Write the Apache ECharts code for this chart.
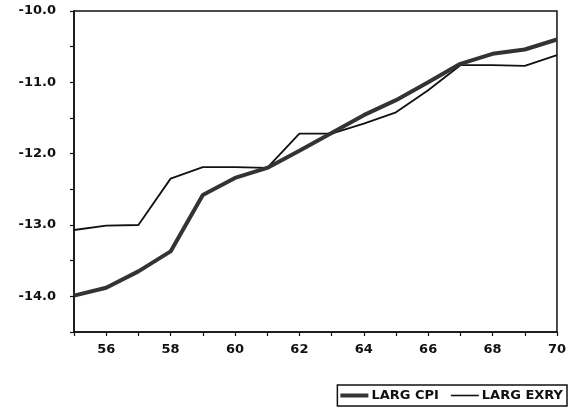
<!DOCTYPE html>
<html>
<head>
<meta charset="utf-8">
<script src="https://cdn.jsdelivr.net/npm/echarts@6/dist/echarts.min.js"></script>
<style>html,body{margin:0;padding:0;background:#fff}#c{width:569px;height:417px}</style>
</head>
<body>
<div id="c"></div>
<script>
var years = [55,56,57,58,59,60,61,62,63,64,65,66,67,68,69,70];
var largCPI = [-13.99,-13.88,-13.65,-13.37,-12.58,-12.34,-12.2,-11.96,-11.71,-11.46,-11.25,-11.0,-10.74,-10.6,-10.54,-10.4];
var largEXRY = [-13.07,-13.01,-13.0,-12.35,-12.19,-12.19,-12.2,-11.72,-11.72,-11.58,-11.42,-11.11,-10.76,-10.76,-10.77,-10.62];
var seriesNames = ['LARG CPI','LARG EXRY'];

function pairs(xs, ys){ return xs.map(function(x,i){ return [x, ys[i]]; }); }
var chart = echarts.init(document.getElementById('c'));
var fontF = 'DejaVu Sans';
chart.setOption({
  animation: false,
  backgroundColor: '#fff',
  grid: {left: 74, right: 11, top: 11, bottom: 85, show: true, borderColor: '#111', borderWidth: 1.5, backgroundColor: 'transparent'},
  xAxis: {
    type: 'value', min: 55, max: 70, interval: 1,
    axisLine: {show: true, lineStyle: {color: '#111', width: 1.5}},
    axisTick: {show: true, length: 4, lineStyle: {color: '#111', width: 1.2}},
    splitLine: {show: false},
    axisLabel: {margin: 11, color: '#111', fontFamily: fontF, fontWeight: 'bold', fontSize: 13,
      formatter: function(v){ return (v % 2 === 0) ? String(v) : ''; }}
  },
  yAxis: {
    type: 'value', min: -14.5, max: -10, interval: 0.5,
    axisLine: {show: true, lineStyle: {color: '#111', width: 1.5}},
    axisTick: {show: true, length: 4, lineStyle: {color: '#111', width: 1.2}},
    splitLine: {show: false},
    axisLabel: {margin: 18, color: '#111', fontFamily: fontF, fontWeight: 'bold', fontSize: 13,
      formatter: function(v){ return (Math.abs(v - Math.round(v)) < 1e-9) ? v.toFixed(1) : ''; }}
  },
  legend: {
    right: 2, bottom: 11, orient: 'horizontal',
    borderColor: '#111', borderWidth: 1.5, padding: [4, 4, 4, 3], itemGap: 12,
    itemWidth: 28, itemHeight: 8, symbolKeepAspect: true,
    textStyle: {color: '#111', fontFamily: fontF, fontWeight: 'bold', fontSize: 13, padding: [0, 0, 0, -2]},
    data: [
      {name: seriesNames[0], icon: 'path://M0,0 L28,0 L28,4 L0,4 Z', itemStyle: {color: '#333'}},
      {name: seriesNames[1], icon: 'path://M0,0 L28,0 L28,1.6 L0,1.6 Z', itemStyle: {color: '#111'}}
    ]
  },
  series: [
    {name: seriesNames[0], type: 'line', symbol: 'none', data: pairs(years, largCPI),
     lineStyle: {color: '#333', width: 4}, itemStyle: {color: '#333'}, z: 3},
    {name: seriesNames[1], type: 'line', symbol: 'none', data: pairs(years, largEXRY),
     lineStyle: {color: '#111', width: 1.8}, itemStyle: {color: '#111'}, z: 2}
  ]
});
</script>
</body>
</html>
